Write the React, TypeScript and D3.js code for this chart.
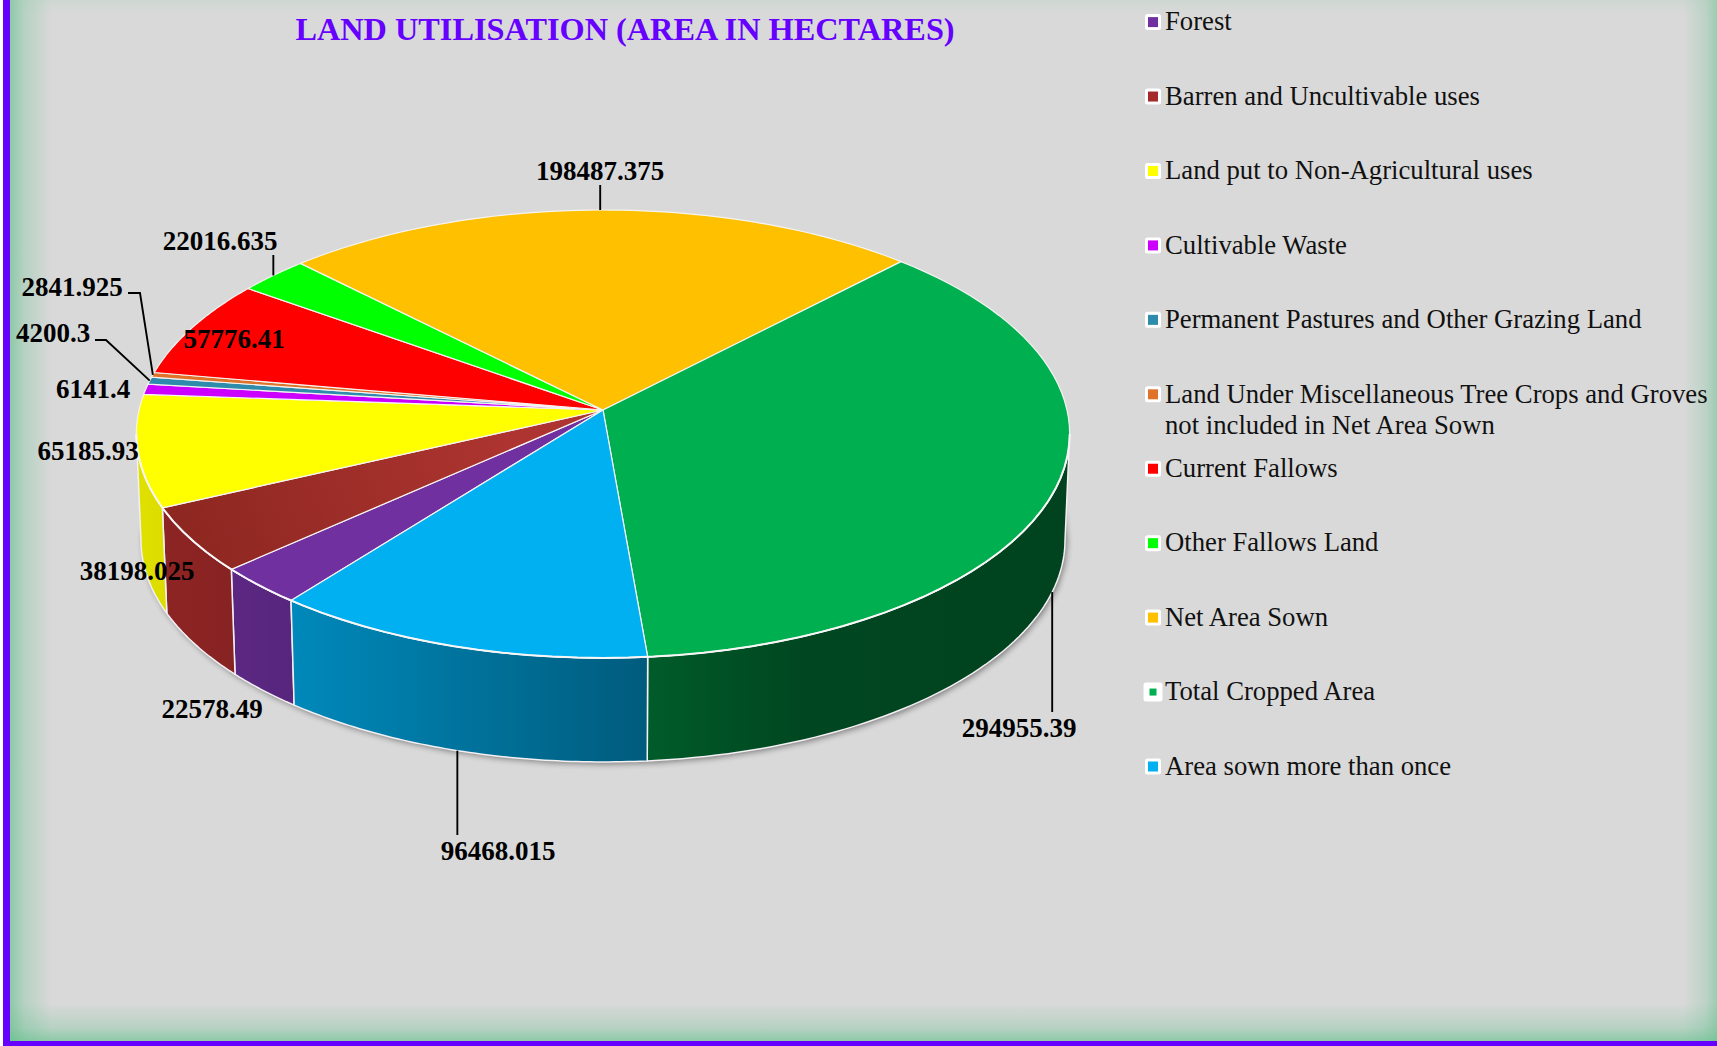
import { useEffect, useRef } from 'react'
import * as d3 from 'd3'

const categories = [
  'Forest',
  'Barren and Uncultivable uses',
  'Land put to Non-Agricultural uses',
  'Cultivable Waste',
  'Permanent Pastures and Other Grazing Land',
  'Land Under Miscellaneous Tree Crops and Groves not included in Net Area Sown',
  'Current Fallows',
  'Other Fallows Land',
  'Net Area Sown',
  'Total Cropped Area',
  'Area sown more than once',
]
const values = [
  22578.49, 38198.025, 65185.93, 6141.4, 4200.3, 2841.925, 57776.41, 22016.635, 198487.375, 294955.39, 96468.015,
]
const valueLabels = [
  '22578.49', '38198.025', '65185.93', '6141.4', '4200.3', '2841.925', '57776.41', '22016.635', '198487.375',
  '294955.39', '96468.015',
]
const colors = [
  '#7030a0', '#a52a2a', '#ffff00', '#cc00ff', '#2e8bab', '#e0732a', '#ff0000', '#00ff00', '#ffc000', '#00b050',
  '#00b0f0',
]

const WIDTH = 1717
const HEIGHT = 1046
const SERIF = '"Liberation Serif", "Times New Roman", serif'

// flat disc seen in perspective: k pulls the near edge down, apex sits above the ellipse centre
const disc = { cx: 603, cy: 410, a: 464, b: 221.4, k: 0.107, floorY: 516.5, floorScale: 0.99 }
const startDeg = 218
const frontEdge = Math.asin(disc.k)
// wall darkening across the chart, left to right
const wallShade = d3.scaleLinear().domain([137, 290, 648, 800, 1070]).range([0.88, 0.78, 0.52, 0.4, 0.38])

// label centres, in the same order as values; leader is the elbow before the rim point
const labelLayout = [
  { x: 212, y: 708.5 },
  { x: 137, y: 570.5 },
  { x: 88, y: 450.5 },
  { x: 93, y: 389 },
  { x: 53, y: 333, leader: [[95, 340], [106, 340]], rim: 0 },
  { x: 72, y: 287, leader: [[128, 293], [140, 293]], rim: 0 },
  { x: 234, y: 339 },
  { x: 220, y: 241, dropY: 255, rim: 0 },
  { x: 600, y: 171, dropY: 185, rim: 0 },
  { x: 1019, y: 728, dropY: 712, rim: 1 },
  { x: 498, y: 851, dropY: 835, rim: 1 },
]

function project(theta: number, level: number): [number, number] {
  const u = Math.sin(theta)
  const v = -Math.cos(theta)
  const w = 1 - disc.k * v
  const x = (disc.a * u) / w
  const y = (disc.b * v) / w
  if (level === 0) return [disc.cx + x, disc.cy + y]
  return [disc.cx + disc.floorScale * x, disc.floorY + disc.floorScale * y]
}

function rim(a0: number, a1: number, level: number) {
  return d3.range(0, 61).map((i) => project(a0 + ((a1 - a0) * i) / 60, level))
}

function wrap(text: string, max: number) {
  const lines: string[] = []
  let cur = ''
  text.split(' ').forEach((word) => {
    if (cur && (cur + ' ' + word).length > max) {
      lines.push(cur)
      cur = word
    } else cur = cur ? cur + ' ' + word : word
  })
  lines.push(cur)
  return lines
}

export default function App() {
  const svgRef = useRef<SVGSVGElement>(null)

  useEffect(() => {
    if (!svgRef.current) return
    const svg = d3.select(svgRef.current)
    svg.selectAll('*').remove()
    const defs = svg.append('defs')

    const edge = (id: string, x1: number, y1: number, x2: number, y2: number, color: string, op: number) => {
      const g = defs.append('linearGradient').attr('id', id).attr('x1', x1).attr('y1', y1).attr('x2', x2).attr('y2', y2)
      g.append('stop').attr('offset', 0).attr('stop-color', color).attr('stop-opacity', op)
      g.append('stop').attr('offset', 0.35).attr('stop-color', color).attr('stop-opacity', op * 0.45)
      g.append('stop').attr('offset', 1).attr('stop-color', color).attr('stop-opacity', 0)
    }
    edge('edgeLeft', 0, 0, 1, 0, '#5fbf8a', 0.62)
    edge('edgeRight', 1, 0, 0, 0, '#5fbf8a', 0.5)
    edge('edgeBottom', 0, 1, 0, 0, '#5fbf8a', 0.62)
    edge('edgeTop', 0, 0, 0, 1, '#9fcfb0', 0.2)

    const barrenFace = defs.append('linearGradient').attr('id', 'barrenFace')
      .attr('gradientUnits', 'userSpaceOnUse')
      .attr('x1', 170).attr('y1', 560).attr('x2', 500).attr('y2', 430)
    barrenFace.append('stop').attr('offset', 0).attr('stop-color', '#8c2620')
    barrenFace.append('stop').attr('offset', 1).attr('stop-color', '#ad3430')

    const blur = defs.append('filter').attr('id', 'soft')
      .attr('x', '-5%').attr('y', '-5%').attr('width', '110%').attr('height', '110%')
    blur.append('feGaussianBlur').attr('stdDeviation', 3)

    // page
    svg.append('rect').attr('width', WIDTH).attr('height', HEIGHT).attr('fill', '#d9d9d9')
    svg.append('rect').attr('x', 10).attr('width', 42).attr('height', HEIGHT).attr('fill', 'url(#edgeLeft)')
    svg.append('rect').attr('x', WIDTH - 34).attr('width', 34).attr('height', HEIGHT).attr('fill', 'url(#edgeRight)')
    svg.append('rect').attr('x', 10).attr('y', 1003).attr('width', WIDTH).attr('height', 38).attr('fill', 'url(#edgeBottom)')
    svg.append('rect').attr('width', WIDTH).attr('height', 16).attr('fill', 'url(#edgeTop)')
    svg.append('rect').attr('width', 3).attr('height', HEIGHT).attr('fill', '#ffffff')
    svg.append('rect').attr('x', 3).attr('width', 7).attr('height', HEIGHT).attr('fill', '#6600ff')
    svg.append('rect').attr('x', 3).attr('y', 1041).attr('width', WIDTH).attr('height', 5).attr('fill', '#6600ff')

    const pie = d3.pie<number>().sort(null)
      .startAngle((startDeg * Math.PI) / 180)
      .endAngle((startDeg * Math.PI) / 180 + 2 * Math.PI)
    const arcs = pie(values)
    const line = d3.line()

    // soft shadow under the body
    const chart = svg.append('g')
    chart.append('path')
      .attr('d', line(rim(0, 2 * Math.PI, 1).map(([x, y]) => [x + 2, y + 2] as [number, number])) + 'Z')
      .attr('fill', '#000')
      .attr('opacity', 0.45)
      .attr('filter', 'url(#soft)')

    // side walls, only the part of the rim that faces the viewer
    const frontStart = Math.PI / 2 + frontEdge
    const frontEnd = (3 * Math.PI) / 2 - frontEdge
    const frontRanges = [0, 1].map((turn) => [frontStart + turn * 2 * Math.PI, frontEnd + turn * 2 * Math.PI])
    arcs.forEach((d, i) => {
      frontRanges.forEach(([lo, hi], r) => {
        const a0 = Math.max(d.startAngle, lo)
        const a1 = Math.min(d.endAngle, hi)
        if (a1 <= a0) return
        const top = rim(a0, a1, 0)
        const bottom = rim(a0, a1, 1).reverse()
        const xs = d3.extent(top.concat(bottom), (p) => p[0]) as [number, number]
        const id = `wall-${i}-${r}`
        const grad = defs.append('linearGradient').attr('id', id)
          .attr('gradientUnits', 'userSpaceOnUse')
          .attr('x1', xs[0]).attr('x2', xs[1]).attr('y1', 0).attr('y2', 0)
        const base = d3.rgb(colors[i])
        d3.range(0, 9).forEach((s) => {
          const t = s / 8
          const shade = wallShade(xs[0] + (xs[1] - xs[0]) * t)
          grad.append('stop').attr('offset', t)
            .attr('stop-color', d3.rgb(base.r * shade, base.g * shade, base.b * shade).formatHex())
        })
        chart.append('path')
          .attr('d', line(top.concat(bottom)) + 'Z')
          .attr('fill', `url(#${id})`)
          .attr('stroke', '#f4f0f4')
          .attr('stroke-width', 1.5)
          .attr('stroke-linejoin', 'round')
      })
    })

    // top face
    arcs.forEach((d, i) => {
      const pts = [[disc.cx, disc.cy] as [number, number], ...rim(d.startAngle, d.endAngle, 0)]
      chart.append('path')
        .attr('d', line(pts) + 'Z')
        .attr('fill', i === 1 ? 'url(#barrenFace)' : colors[i])
        .attr('stroke', '#f6f4f2')
        .attr('stroke-width', 1.2)
        .attr('stroke-linejoin', 'round')
    })
    // the near rim catches more light than the far one
    chart.append('path')
      .attr('d', line(rim(frontStart, frontEnd, 0)))
      .attr('fill', 'none')
      .attr('stroke', '#f8f6f6')
      .attr('stroke-width', 2)

    // leader lines end on the rim at each slice's middle angle
    labelLayout.forEach((pos, i) => {
      if (!pos.leader && !pos.dropY) return
      const mid = (arcs[i].startAngle + arcs[i].endAngle) / 2
      const end = project(mid, pos.rim as number)
      const pts = (pos.leader ? [...pos.leader, end] : [[end[0], pos.dropY], end]) as [number, number][]
      svg.append('path')
        .attr('d', line(pts))
        .attr('fill', 'none')
        .attr('stroke', '#000')
        .attr('stroke-width', 1.9)
    })

    labelLayout.forEach((pos, i) => {
      svg.append('text')
        .attr('x', pos.x).attr('y', pos.y).attr('dy', '0.34em')
        .attr('text-anchor', 'middle')
        .attr('font-family', SERIF).attr('font-size', 27).attr('font-weight', 700)
        .attr('fill', '#000')
        .text(valueLabels[i])
    })

    svg.append('text')
      .attr('x', 625).attr('y', 40)
      .attr('text-anchor', 'middle')
      .attr('font-family', SERIF).attr('font-size', 32.3).attr('font-weight', 700)
      .attr('fill', '#6600ff')
      .text('LAND UTILISATION (AREA IN HECTARES)')

    // legend
    const legendY = d3.scaleLinear().domain([0, categories.length - 1]).range([21.6, 766])
    const legend = svg.append('g')
    categories.forEach((name, i) => {
      const y = legendY(i)
      const big = i === 9
      const outer = big ? 19 : 16
      const inner = big ? 7 : 10
      legend.append('rect')
        .attr('x', 1153 - outer / 2).attr('y', y + 0.5 - outer / 2)
        .attr('width', outer).attr('height', outer).attr('rx', 2.5)
        .attr('fill', '#fff')
      legend.append('rect')
        .attr('x', 1153 - inner / 2).attr('y', y + 0.5 - inner / 2)
        .attr('width', inner).attr('height', inner)
        .attr('fill', colors[i])
      const text = legend.append('text')
        .attr('font-family', SERIF).attr('font-size', 26.7).attr('fill', '#111')
      wrap(name, 46).forEach((part, j) => {
        text.append('tspan')
          .attr('x', 1165).attr('y', y + j * 31).attr('dy', '0.33em')
          .text(part)
      })
    })
  }, [])

  return (
    <svg
      ref={svgRef}
      width={WIDTH}
      height={HEIGHT}
      style={{ position: 'absolute', left: 0, top: 0, display: 'block' }}
    />
  )
}
